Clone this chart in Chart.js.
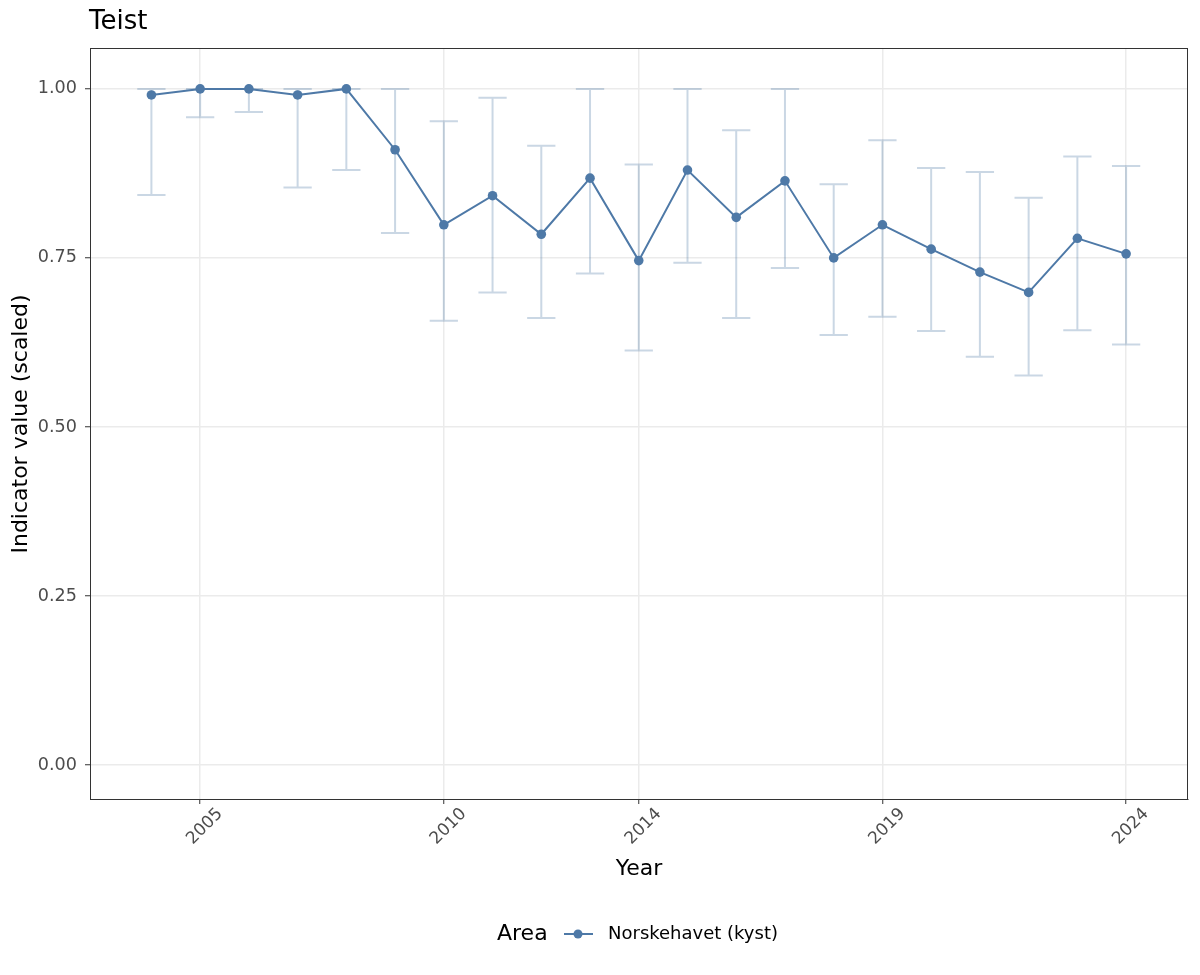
<!DOCTYPE html>
<html>
<head>
<meta charset="utf-8">
<script src="https://cdn.jsdelivr.net/npm/chart.js@4.4.1/dist/chart.umd.min.js"></script>
<style>
  html, body { margin: 0; padding: 0; background: #fff; }
  #wrap { width: 1200px; height: 975px; }
</style>
</head>
<body>
<div id="wrap"><canvas id="chart" width="1200" height="975"></canvas></div>
<script>
const years = [2004, 2005, 2006, 2007, 2008, 2009, 2010, 2011, 2012, 2013, 2014,
  2015, 2016, 2017, 2018, 2019, 2020, 2021, 2022, 2023, 2024];
const values = [0.991, 1.0, 1.0, 0.991, 1.0, 0.910, 0.799, 0.842, 0.785, 0.868, 0.746,
  0.880, 0.810, 0.864, 0.750, 0.799, 0.763, 0.729, 0.699, 0.779, 0.756];
const lower = [0.843, 0.958, 0.966, 0.854, 0.880, 0.787, 0.657, 0.699, 0.661, 0.727, 0.613,
  0.743, 0.661, 0.735, 0.636, 0.663, 0.642, 0.604, 0.576, 0.643, 0.622];
const upper = [1.0, 1.0, 1.0, 1.0, 1.0, 1.0, 0.952, 0.987, 0.916, 1.0, 0.888,
  1.0, 0.939, 1.0, 0.859, 0.924, 0.883, 0.877, 0.839, 0.900, 0.886];
const xTicks = [2005, 2010, 2014, 2019, 2024];
const yTicks = [0, 0.25, 0.5, 0.75, 1];

const chartTitle = 'Teist';
const legendTitle = 'Area';
const seriesName = 'Norskehavet (kyst)';

const FONT = '"DejaVu Sans", sans-serif';
const lineColor = '#4e79a7';
const barColor = 'rgba(78, 121, 167, 0.3)';

// error bars go under the line
const errorBars = {
  id: 'errorBars',
  beforeDatasetsDraw(chart) {
    const { ctx, scales: { x, y } } = chart;
    const half = x.getPixelForValue(2000.29) - x.getPixelForValue(2000);
    ctx.save();
    ctx.strokeStyle = barColor;
    ctx.lineWidth = 2;
    years.forEach((yr, i) => {
      const px = x.getPixelForValue(yr);
      const lo = y.getPixelForValue(lower[i]);
      const hi = y.getPixelForValue(upper[i]);
      ctx.beginPath();
      ctx.moveTo(px, lo); ctx.lineTo(px, hi);
      ctx.moveTo(px - half, lo); ctx.lineTo(px + half, lo);
      ctx.moveTo(px - half, hi); ctx.lineTo(px + half, hi);
      ctx.stroke();
    });
    ctx.restore();
  }
};

const decorations = {
  id: 'decorations',
  afterDraw(chart) {
    const { ctx, chartArea: a } = chart;
    ctx.save();
    // panel border
    ctx.strokeStyle = '#333333';
    ctx.lineWidth = 1;
    ctx.strokeRect(Math.round(a.left) + 0.5, Math.round(a.top) - 0.5,
      Math.round(a.right - a.left) - 1, Math.round(a.bottom - a.top) + 1);

    // title
    ctx.fillStyle = '#000';
    ctx.font = '26px ' + FONT;
    ctx.textBaseline = 'middle';
    ctx.textAlign = 'left';
    ctx.fillText(chartTitle, 89, 22);

    // legend
    const ly = 934;
    ctx.font = '22px ' + FONT;
    ctx.fillText(legendTitle, 497, ly);
    ctx.strokeStyle = lineColor;
    ctx.lineWidth = 2;
    ctx.beginPath();
    ctx.moveTo(564, ly); ctx.lineTo(593, ly);
    ctx.stroke();
    ctx.fillStyle = lineColor;
    ctx.beginPath();
    ctx.arc(578, ly, 4.5, 0, Math.PI * 2);
    ctx.fill();
    ctx.fillStyle = '#000';
    ctx.font = '18px ' + FONT;
    ctx.fillText(seriesName, 608, ly);
    ctx.restore();
  }
};

new Chart(document.getElementById('chart'), {
  type: 'line',
  data: {
    datasets: [{
      label: seriesName,
      data: years.map((yr, i) => ({ x: yr, y: values[i] })),
      borderColor: lineColor,
      backgroundColor: lineColor,
      borderWidth: 2,
      pointRadius: 4.8,
      pointHoverRadius: 4.8,
      pointBorderWidth: 0,
      tension: 0,
    }],
  },
  options: {
    responsive: false,
    animation: false,
    layout: { padding: { top: 49, right: 12, bottom: 80, left: 0 } },
    plugins: {
      legend: { display: false },
      title: { display: false },
      tooltip: { enabled: false },
    },
    scales: {
      x: {
        type: 'linear',
        min: 2002.74,
        max: 2025.27,
        afterBuildTicks: s => { s.ticks = xTicks.map(v => ({ value: v })); },
        afterFit: s => { s.height = 96; },
        ticks: {
          minRotation: 45,
          maxRotation: 45,
          color: '#4d4d4d',
          font: { family: FONT, size: 17 },
          padding: 0,
          labelOffset: 20,
          callback: v => String(v),
        },
        grid: { color: '#ebebeb', lineWidth: 1.5, tickLength: 5, tickColor: '#333333', tickWidth: 1 },
        border: { display: true, color: '#333333', width: 1 },
        title: {
          display: true,
          text: 'Year',
          color: '#000',
          font: { family: FONT, size: 22 },
          padding: { top: 0, bottom: 13 },
        },
      },
      y: {
        type: 'linear',
        min: -0.0503,
        max: 1.059,
        afterBuildTicks: s => { s.ticks = yTicks.map(v => ({ value: v })); },
        afterFit: s => { s.width = 90; },
        ticks: {
          color: '#4d4d4d',
          font: { family: FONT, size: 17.6 },
          padding: 8,
          callback: v => v.toFixed(2),
        },
        grid: { color: '#ebebeb', lineWidth: 1.5, tickLength: 5, tickColor: '#333333', tickWidth: 1 },
        border: { display: true, color: '#333333', width: 1 },
        title: {
          display: true,
          text: 'Indicator value (scaled)',
          color: '#000',
          font: { family: FONT, size: 22 },
          padding: { top: 8, bottom: 0 },
        },
      },
    },
  },
  plugins: [errorBars, decorations],
});
</script>
</body>
</html>
